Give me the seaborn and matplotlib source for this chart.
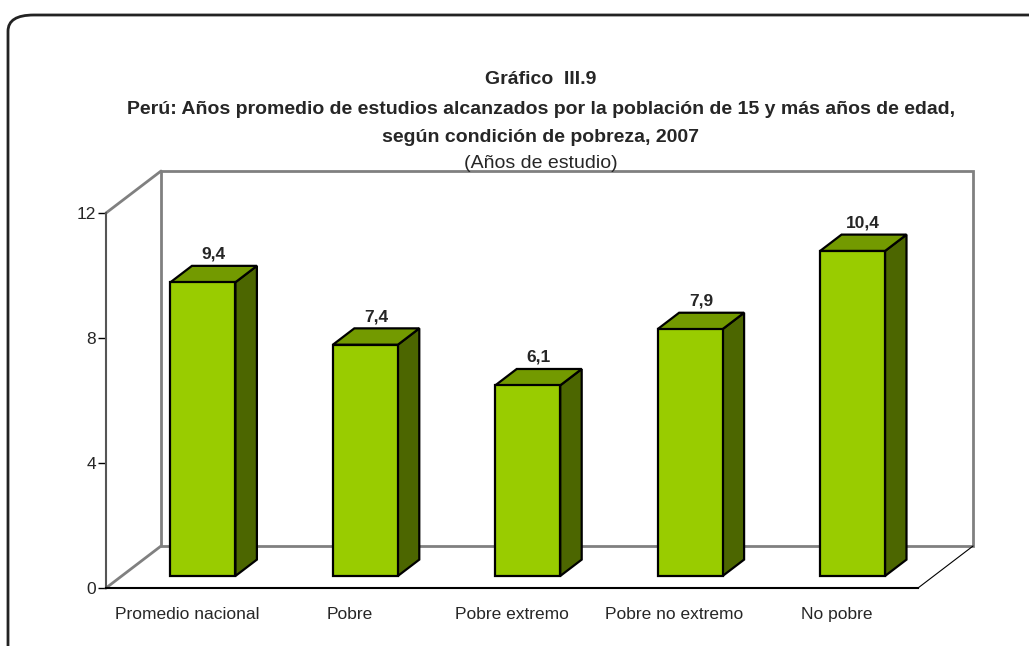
import matplotlib
matplotlib.use("Agg")
import matplotlib.pyplot as plt
from matplotlib.patches import Polygon, Rectangle, FancyBboxPatch
import seaborn as sns
import pandas as pd

categories = ["Promedio nacional", "Pobre", "Pobre extremo", "Pobre no extremo", "No pobre"]
values = [9.4, 7.4, 6.1, 7.9, 10.4]
labels = ["9,4", "7,4", "6,1", "7,9", "10,4"]
yticks = [0, 4, 8, 12]

front_col = "#99CC00"
top_col = "#739A00"
side_col = "#4C6600"
wall_col = "#808080"

sns.set_style("white")
plt.rcParams["font.family"] = ["Liberation Sans Narrow", "Liberation Sans", "DejaVu Sans"]

fig = plt.figure(figsize=(10.29, 6.46), dpi=100)
ax = fig.add_axes([106 / 1029, 58 / 646, 812 / 1029, 375 / 646])

df = pd.DataFrame({"cat": categories, "val": values})
sns.barplot(data=df, x="cat", y="val", color=front_col, width=0.4,
            saturation=1, edgecolor="black", linewidth=1.6, ax=ax, zorder=5)

# depth of the 3D box in data units
ddx = 0.339
ddy = 1.344
f0 = 0.286   # bar front position inside depth
bd = 0.39    # bar depth

for p, lab in zip(ax.patches, labels):
    x0 = p.get_x() + f0 * ddx
    w = p.get_width()
    h = p.get_height()
    y0 = f0 * ddy
    p.set_x(x0)
    p.set_y(y0)
    x1 = x0 + w
    sx, sy = bd * ddx, bd * ddy
    side = Polygon([(x1, y0), (x1 + sx, y0 + sy), (x1 + sx, y0 + h + sy), (x1, y0 + h)],
                   closed=True, facecolor=side_col, edgecolor="black", lw=1.6,
                   zorder=4, clip_on=False)
    top = Polygon([(x0, y0 + h), (x1, y0 + h), (x1 + sx, y0 + h + sy), (x0 + sx, y0 + h + sy)],
                  closed=True, facecolor=top_col, edgecolor="black", lw=1.6,
                  zorder=4, clip_on=False)
    ax.add_patch(side)
    ax.add_patch(top)
    ax.annotate(lab, (x0 + w / 2 + sx / 2, y0 + h + sy), xytext=(0, 3),
                textcoords="offset points", ha="center", va="bottom",
                fontsize=12.5, fontweight="bold", zorder=6)

# walls
ax.add_patch(Rectangle((-0.5 + ddx, ddy), 5, 12, fill=False, edgecolor=wall_col,
                       lw=2, zorder=1, clip_on=False))
for y in (0, 12):
    ax.plot([-0.5, -0.5 + ddx], [y, y + ddy], color=wall_col, lw=2, zorder=1, clip_on=False)
ax.plot([4.5, 4.5 + ddx], [0, ddy], color="black", lw=0.8, zorder=1, clip_on=False)

ax.set_xlim(-0.5, 4.5)
ax.set_ylim(0, 12)
ax.set_yticks(yticks)
ax.set_xlabel("")
ax.set_ylabel("")
ax.set_xticks([i + 0.5 for i in range(-1, 5)], minor=True)
ax.tick_params(axis="x", which="major", length=0, pad=14, labelsize=12.5)
ax.tick_params(axis="x", which="minor", length=6, width=1, color="black", direction="out")
ax.tick_params(axis="y", length=6, width=1, color="black", direction="out", labelsize=12.5, pad=1)
ax.tick_params(bottom=True, left=True)
for s in ("top", "right"):
    ax.spines[s].set_visible(False)
ax.spines["left"].set_color("#555555")
ax.spines["left"].set_linewidth(1.5)
ax.spines["bottom"].set_color("black")
ax.spines["bottom"].set_linewidth(1.5)
ax.patch.set_alpha(0)

# outer rounded frame
frame = FancyBboxPatch((8 / 1029, -0.1), 1.2, 1.1 - 15 / 646,
                       boxstyle="round,pad=0,rounding_size=0.025",
                       transform=fig.transFigure, fill=False, edgecolor="#222222",
                       lw=2, clip_on=False)
fig.patches.append(frame)

cx = 541 / 1029
fig.text(cx, 1 - 79 / 646, "Gráfico  III.9", ha="center", va="center", fontsize=14, fontweight="bold")
fig.text(cx, 1 - 110 / 646,
         "Perú: Años promedio de estudios alcanzados por la población de 15 y más años de edad,",
         ha="center", va="center", fontsize=14, fontweight="bold")
fig.text(cx, 1 - 137 / 646, "según condición de pobreza, 2007", ha="center", va="center",
         fontsize=14, fontweight="bold")
fig.text(cx, 1 - 163 / 646, "(Años de estudio)", ha="center", va="center", fontsize=14)

fig.savefig("out.png", dpi=100)
